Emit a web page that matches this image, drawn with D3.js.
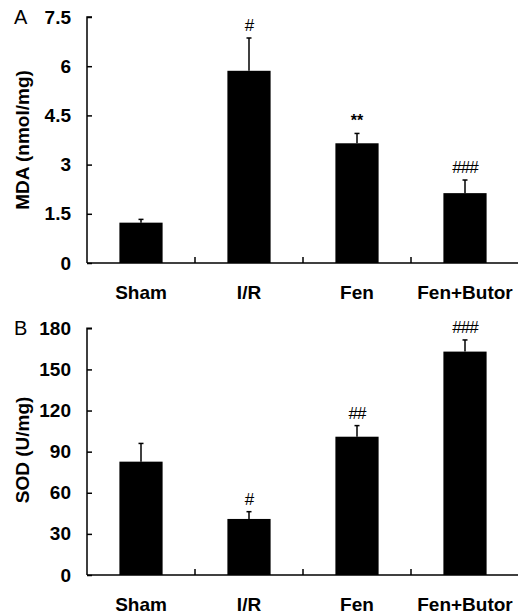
<!DOCTYPE html>
<html>
<head>
<meta charset="utf-8">
<script src="https://cdn.jsdelivr.net/npm/d3@7"></script>
<style>
  body { margin: 0; background: #fff; }
  svg { display: block; font-family: "Liberation Sans", Arial, sans-serif; }
</style>
</head>
<body>
<svg id="chart"></svg>
<script>
// Data
const groups = ['Sham', 'I/R', 'Fen', 'Fen+Butor'];

const mdaMean = [1.23, 5.86, 3.65, 2.13];
const mdaErr  = [0.10, 1.00, 0.30, 0.40];
const mdaMarks = ['', '#', '**', '###'];
const mdaTicks = [0, 1.5, 3, 4.5, 6, 7.5];

const sodMean = [82.7, 40.9, 100.9, 163];
const sodErr  = [13.3, 5.3, 8.1, 8.5];
const sodMarks = ['', '#', '##', '###'];
const sodTicks = [0, 30, 60, 90, 120, 150, 180];

const W = 518, H = 615;
const svg = d3.select('#chart').attr('width', W).attr('height', H);

// one panel = one bar chart
function panel(opts) {
  const g = svg.append('g');

  const x = d3.scaleBand()
    .domain(groups)
    .range([87, 519])
    .paddingInner(0.6)
    .paddingOuter(0.3);

  const y = d3.scaleLinear()
    .domain([0, opts.ticks[opts.ticks.length - 1]])
    .range([opts.y0, opts.yTop]);

  // bars
  g.selectAll('rect.bar')
    .data(opts.mean)
    .join('rect')
      .attr('class', 'bar')
      .attr('x', (d, i) => x(groups[i]))
      .attr('y', d => y(d))
      .attr('width', x.bandwidth())
      .attr('height', d => y(0) - y(d))
      .attr('fill', '#000');

  // upper error bars
  opts.mean.forEach((m, i) => {
    const cx = x(groups[i]) + x.bandwidth() / 2;
    const top = y(m + opts.err[i]);
    g.append('line')
      .attr('x1', cx).attr('x2', cx)
      .attr('y1', y(m)).attr('y2', top)
      .attr('stroke', '#000').attr('stroke-width', 1.5);
    g.append('line')
      .attr('x1', cx - 2.5).attr('x2', cx + 2.5)
      .attr('y1', top).attr('y2', top)
      .attr('stroke', '#000').attr('stroke-width', 1.5);
    if (opts.marks[i]) {
      const star = opts.marks[i].includes('*');
      g.append('text')
        .attr('x', cx)
        .attr('y', top - 7)
        .attr('text-anchor', 'middle')
        .style('font-size', star ? '16px' : '17px')
        .style('font-weight', star ? 'bold' : 'normal')
        .style('letter-spacing', star ? '0px' : '-1px')
        .text(opts.marks[i]);
    }
  });

  // y axis, ticks pointing inward
  const yAxis = g.append('g')
    .attr('transform', 'translate(87,0)')
    .call(d3.axisLeft(y)
      .tickValues(opts.ticks)
      .tickFormat(d => String(d))
      .tickSize(-5)
      .tickPadding(16));
  yAxis.select('.domain').attr('d', `M5,${opts.yTop}H0V${opts.y0}`);

  // x axis with labels
  const xAxis = g.append('g')
    .attr('transform', `translate(0,${opts.y0})`)
    .call(d3.axisBottom(x).tickSize(0).tickPadding(23));
  xAxis.select('.domain').attr('d', `M87,0H519`);

  // category separator ticks
  d3.range(1, groups.length + 1).forEach(i => {
    const bx = x.range()[0] + i * x.step();
    g.append('line')
      .attr('x1', bx).attr('x2', bx)
      .attr('y1', opts.y0).attr('y2', opts.y0 - 6)
      .attr('stroke', '#000').attr('stroke-width', 1.5);
  });

  g.selectAll('.domain, .tick line')
    .attr('stroke', '#000').attr('stroke-width', 1.5);
  g.selectAll('.tick text')
    .attr('fill', '#000')
    .style('font-family', '"Liberation Sans", Arial, sans-serif')
    .style('font-size', '19px')
    .style('font-weight', 'bold');

  // axis title
  g.append('text')
    .attr('transform', `translate(29,${opts.titleY}) rotate(-90)`)
    .attr('text-anchor', 'middle')
    .style('font-size', '19px')
    .style('font-weight', 'bold')
    .text(opts.title);

  // panel letter
  g.append('text')
    .attr('x', 14)
    .attr('y', opts.yTop + 7)
    .style('font-size', '20px')
    .text(opts.letter);
}

panel({ mean: mdaMean, err: mdaErr, marks: mdaMarks, ticks: mdaTicks,
        y0: 263, yTop: 17, title: 'MDA (nmol/mg)', titleY: 140, letter: 'A' });
panel({ mean: sodMean, err: sodErr, marks: sodMarks, ticks: sodTicks,
        y0: 575, yTop: 328.3, title: 'SOD (U/mg)', titleY: 450, letter: 'B' });
</script>
</body>
</html>
